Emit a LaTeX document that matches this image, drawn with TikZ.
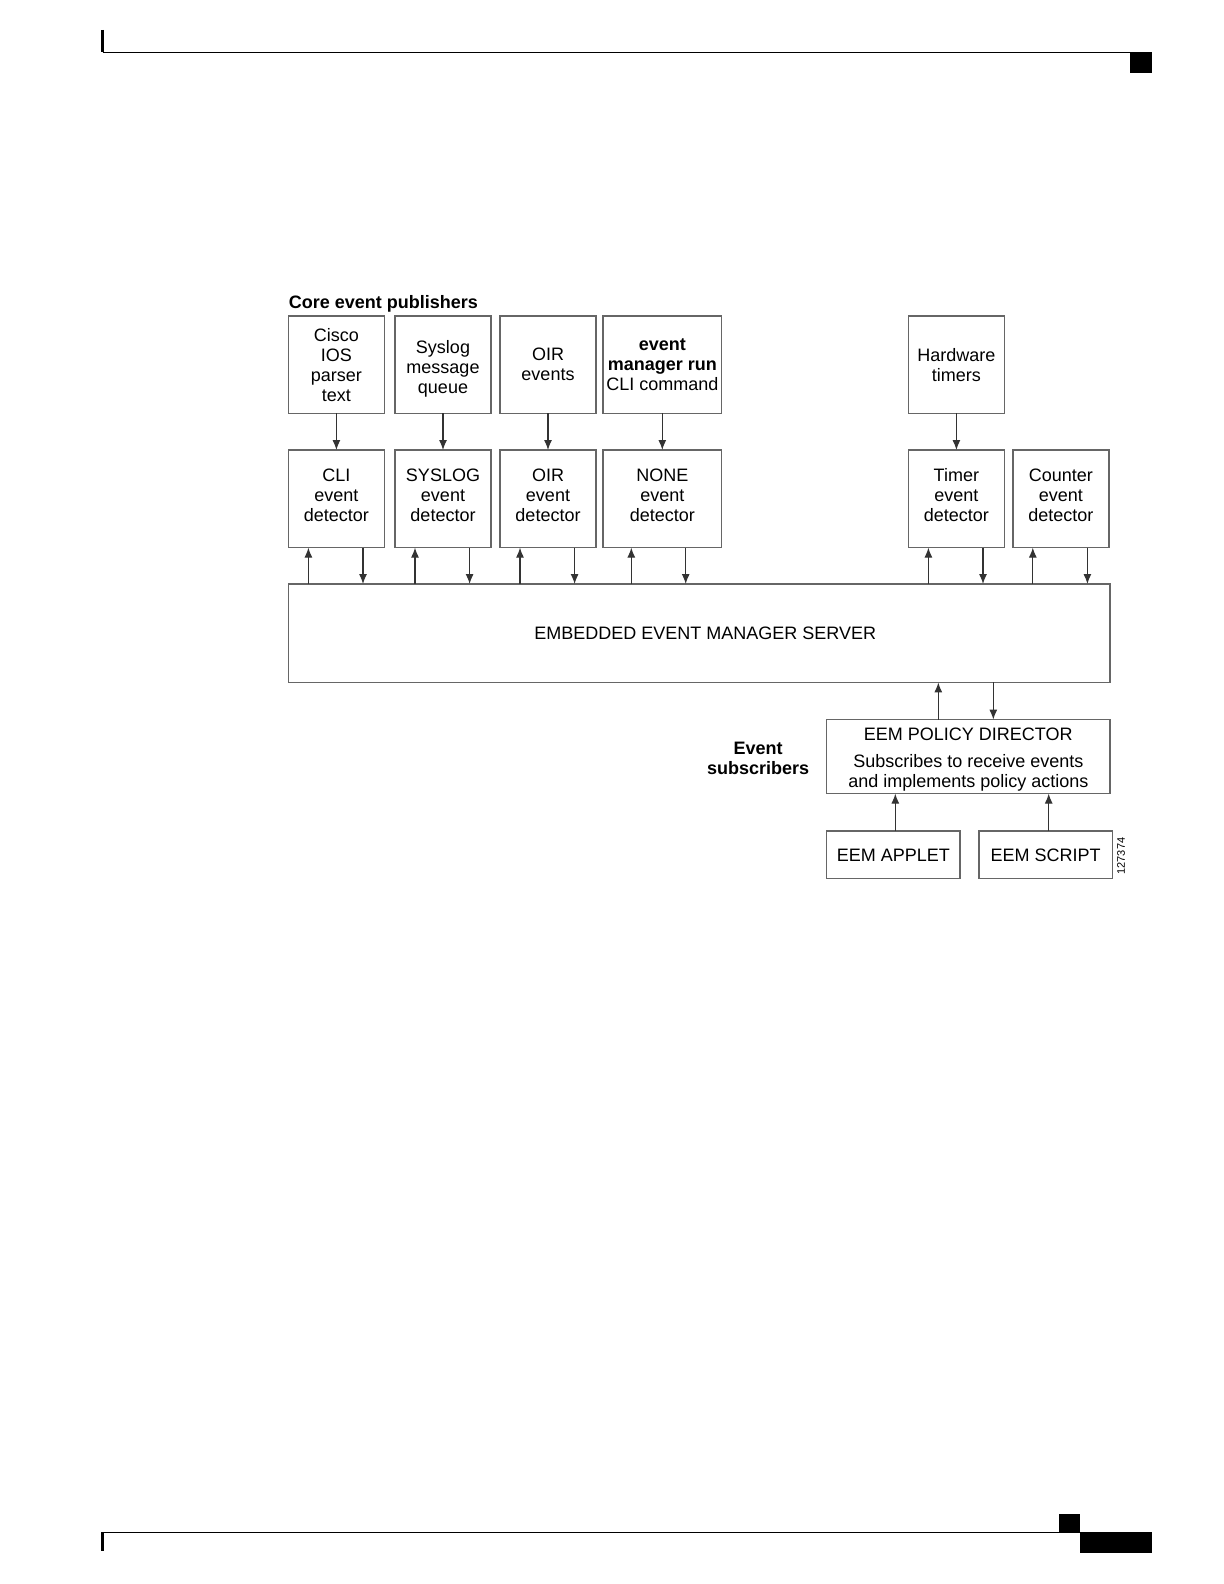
\documentclass[tikz,border=0pt]{standalone}
\usepackage{fontspec}
\setmainfont{Liberation Sans}
\usetikzlibrary{positioning, arrows.meta}
\tikzset{
  box/.style={draw=black!60, line width=0.7pt, outer sep=0pt, minimum width=48pt, minimum height=48.8pt, align=center, inner sep=1pt, font=\fontsize{9}{10}\selectfont},
  pub/.style={box},
  det/.style={box, text depth=4pt},
  srv/.style={box, minimum width=410.8pt, minimum height=49.2pt},
  pol/.style={box, minimum width=141.7pt, minimum height=37pt},
  sub/.style={box, minimum width=66.7pt, minimum height=23.8pt},
  hdr/.style={font=\fontsize{9}{10}\selectfont\bfseries, align=center, inner sep=1pt},
  arr/.style={-{Latex[length=5pt, width=4pt]}, line width=0.6pt, black!80},
  rule/.style={line width=0.65pt},
  tick/.style={line width=1.5pt}
}

\begin{document}
\begin{tikzpicture}[x=1pt, y=-1pt]
\useasboundingbox (0,0) rectangle (612,792);
% page rules
\draw[tick] (51.3,15) -- (51.3,26.2);
\draw[rule] (51.3,26.2) -- (565,26.2);
\fill (565,26.2) rectangle (575.8,36.3);
\draw[tick] (51.3,766.2) -- (51.3,775.3);
\draw[rule] (51.3,766.2) -- (540,766.2);
\fill (529.5,757) rectangle (540,766.2);
\fill (540,766.2) rectangle (575.8,776.7);

% publishers
\node[pub, anchor=north west] (cisco) at (144.2,157.9) {Cisco\\IOS\\parser\\text};
\node[pub, right=5.3pt of cisco] (syslog) {\rule{0pt}{10.5pt}Syslog\\message\\queue};
\node[pub, right=4.5pt of syslog] (oir) {OIR\\events};
\node[pub, right=3.5pt of oir, minimum width=59.3pt] (run) {\textbf{event}\\\textbf{manager run}\\CLI command};
\node[pub, anchor=north west] (hw) at (454.2,157.9) {Hardware\\timers};
\node[hdr, anchor=base west, inner sep=0pt] (core) at ([yshift=3.9pt]cisco.north west) {Core event publishers};

% detectors
\node[det, below=18.3pt of cisco] (cli) {CLI\\event\\detector};
\node[det, below=18.3pt of syslog] (sysdet) {SYSLOG\\event\\detector};
\node[det, below=18.3pt of oir] (oirdet) {OIR\\event\\detector};
\node[det, below=18.3pt of run, minimum width=59.3pt] (none) {NONE\\event\\detector};
\node[det, below=18.3pt of hw] (timer) {Timer\\event\\detector};
\node[det, right=4.2pt of timer] (counter) {Counter\\event\\detector};

\draw[arr] (cisco) -- (cli);
\draw[arr] (syslog) -- (sysdet);
\draw[arr] (oir) -- (oirdet);
\draw[arr] (run) -- (none);
\draw[arr] (hw) -- (timer);

% server
\node[srv, anchor=north west] (server) at ([yshift=-18.2pt]cli.south west) {\hspace*{6pt}EMBEDDED EVENT MANAGER SERVER};

\foreach \d in {cli, sysdet, oirdet, timer, counter} {
  \draw[arr] ([xshift=-14pt]\d.south |- server.north) -- ([xshift=-14pt]\d.south);
  \draw[arr] ([xshift=13.3pt]\d.south) -- ([xshift=13.3pt]\d.south |- server.north);
}
\draw[arr] ([xshift=-15.5pt]none.south |- server.north) -- ([xshift=-15.5pt]none.south);
\draw[arr] ([xshift=11.7pt]none.south) -- ([xshift=11.7pt]none.south |- server.north);

% subscribers
\node[pol, anchor=north east] (policy) at ([yshift=-18.6pt]server.south east) {\rule{0pt}{9.4pt}EEM POLICY DIRECTOR\\[3.4pt]Subscribes to receive events\\and implements policy actions};
\node[hdr, left=7.5pt of policy, yshift=-1pt] (subs) {Event\\subscribers};
\node[sub, anchor=north west] (applet) at ([yshift=-18.7pt]policy.south west) {EEM APPLET};
\node[sub, right=9.5pt of applet] (script) {EEM SCRIPT};
\node[font=\fontsize{5.5}{6}\selectfont, rotate=90, inner sep=0pt] (fig) at (560.5,428) {127374};

\draw[arr] ([xshift=-15pt]policy.north) -- ([xshift=-15pt]policy.north |- server.south);
\draw[arr] ([xshift=12.5pt]policy.north |- server.south) -- ([xshift=12.5pt]policy.north);
\draw[arr] ([xshift=1pt]applet.north) -- ([xshift=1pt]applet.north |- policy.south);
\draw[arr] ([xshift=1.5pt]script.north) -- ([xshift=1.5pt]script.north |- policy.south);
\end{tikzpicture}
\end{document}
